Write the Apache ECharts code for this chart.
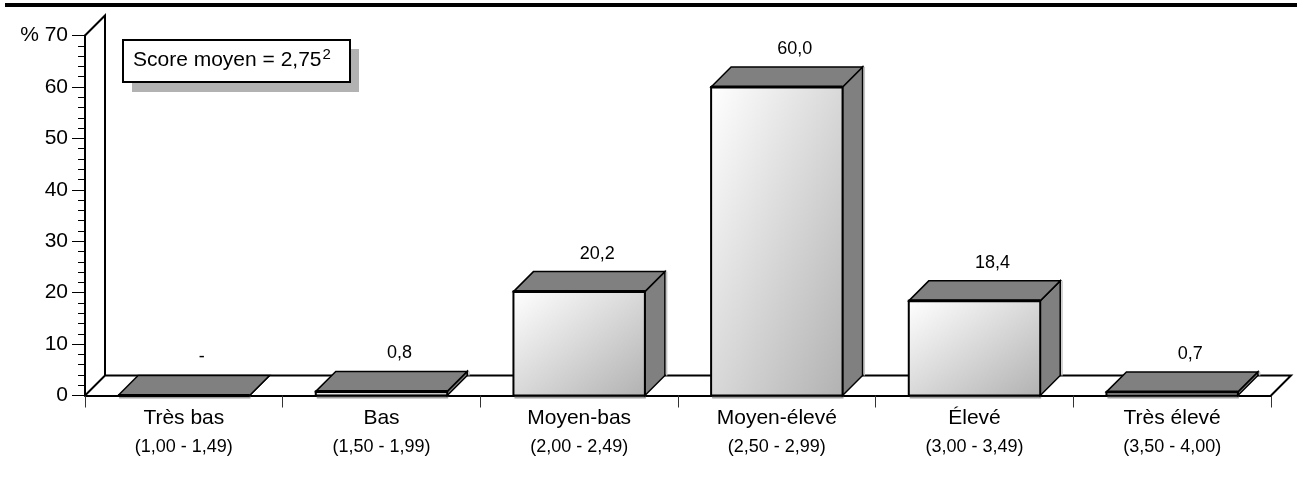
<!DOCTYPE html>
<html>
<head>
<meta charset="utf-8">
<title>Score moyen</title>
<style>
  html, body { margin: 0; padding: 0; background: #fff; }
  #myChart { width: 1297px; height: 477px; }
</style>
<script src="https://cdn.jsdelivr.net/npm/echarts@6/dist/echarts.min.js"></script>
</head>
<body>
<div id="myChart"></div>
<script>
const categories = ["Très bas", "Bas", "Moyen-bas", "Moyen-élevé", "Élevé", "Très élevé"];
const ranges = ["(1,00 - 1,49)", "(1,50 - 1,99)", "(2,00 - 2,49)", "(2,50 - 2,99)", "(3,00 - 3,49)", "(3,50 - 4,00)"];
const values = [0, 0.8, 20.2, 60.0, 18.4, 0.7];
const valueLabels = ["-", "0,8", "20,2", "60,0", "18,4", "0,7"];
const scoreText = "Score moyen = 2,75";
const scoreSup = "2";

const FONT = '"Liberation Sans", Arial, sans-serif';
const DEPTH = 20;

// sol et mur du fond
function renderFloor(params, api) {
  const c = params.coordSys;
  const left = c.x, right = c.x + c.width, top = c.y, bottom = c.y + c.height;
  const line = { stroke: "#000", lineWidth: 2, fill: "none" };
  return {
    type: "group",
    children: [
      {
        type: "polyline",
        shape: { points: [[left, bottom], [left + DEPTH, bottom - DEPTH], [right + DEPTH, bottom - DEPTH], [right, bottom]] },
        style: line
      },
      {
        type: "polyline",
        shape: { points: [[left, top], [left + DEPTH, top - DEPTH], [left + DEPTH, bottom - DEPTH]] },
        style: line
      }
    ]
  };
}

// barre en 3D : face, dessus, côté
function renderBar(params, api) {
  const idx = api.value(0);
  const top = api.coord([idx, api.value(1)]);
  const base = api.coord([idx, 0]);
  const w = api.size([1, 0])[0] * 0.665;
  const h = Math.max(base[1] - top[1], 1);
  const x0 = top[0] - w / 2;
  const x1 = top[0] + w / 2;
  const dark = { fill: "#808080", stroke: "#000", lineWidth: 1.5, lineJoin: "miter" };
  // dégradé dont les isolignes suivent la diagonale bas-gauche / haut-droite
  const k = 2 * w * h / (w * w + h * h);
  return {
    type: "group",
    children: [
      {
        type: "rect",
        shape: { x: x0 + 1, y: base[1] + 1, width: w, height: 2 },
        style: { fill: "#a0a0a0" }
      },
      {
        type: "rect",
        shape: { x: x1 + DEPTH + 1, y: top[1] - DEPTH, width: 1.5, height: base[1] - top[1] },
        style: { fill: "#c4c4c4" }
      },
      {
        type: "polygon",
        shape: { points: [[x1, top[1]], [x1 + DEPTH, top[1] - DEPTH], [x1 + DEPTH, base[1] - DEPTH], [x1, base[1]]] },
        style: dark
      },
      {
        type: "polygon",
        shape: { points: [[x0, top[1]], [x0 + DEPTH, top[1] - DEPTH], [x1 + DEPTH, top[1] - DEPTH], [x1, top[1]]] },
        style: dark
      },
      {
        type: "rect",
        shape: { x: x0, y: top[1], width: w, height: base[1] - top[1] },
        style: {
          fill: new echarts.graphic.LinearGradient(x0, top[1], x0 + h * k, top[1] + w * k, [
            { offset: 0, color: "#ffffff" },
            { offset: 1, color: "#b2b2b2" }
          ], true),
          stroke: "#000",
          lineWidth: 2
        }
      },
      {
        type: "line",
        shape: { x1: x0, y1: top[1], x2: x1, y2: top[1] },
        style: { stroke: "#000", lineWidth: 3 }
      },
      {
        type: "text",
        style: {
          x: top[0] + 18,
          y: top[1] - DEPTH - 18,
          text: valueLabels[idx],
          font: "18px " + FONT,
          fill: "#000",
          align: "center",
          verticalAlign: "middle"
        }
      }
    ]
  };
}

const myChart = echarts.init(document.getElementById("myChart"));

myChart.setOption({
  animation: false,
  backgroundColor: "#fff",
  textStyle: { fontFamily: FONT },
  grid: { left: 85, right: 26, top: 35.5, bottom: 81.5 },
  xAxis: {
    type: "category",
    data: categories,
    axisLine: { show: true, lineStyle: { color: "#000", width: 2 } },
    axisTick: { show: true, length: 12, lineStyle: { color: "#333", width: 1 } },
    axisLabel: {
      interval: 0,
      margin: 10,
      color: "#000",
      formatter: function (v, i) {
        return "{a|" + v + "}\n{b|" + ranges[i] + "}";
      },
      rich: {
        a: { fontSize: 21, lineHeight: 26, fontFamily: FONT, color: "#000" },
        b: { fontSize: 18, lineHeight: 31, fontFamily: FONT, color: "#000" }
      }
    }
  },
  yAxis: {
    type: "value",
    min: 0,
    max: 70,
    interval: 10,
    axisLine: { show: true, lineStyle: { color: "#000", width: 2 } },
    axisTick: { show: true, length: 13, lineStyle: { color: "#000", width: 1 } },
    minorTick: { show: true, splitNumber: 5, length: 7, lineStyle: { color: "#000", width: 1 } },
    splitLine: { show: false },
    axisLabel: {
      margin: 17,
      fontSize: 21,
      color: "#000",
      fontFamily: FONT,
      formatter: function (v) { return v === 70 ? "% 70" : String(v); }
    }
  },
  series: [
    { type: "custom", z: 1, clip: false, renderItem: renderFloor, data: [[0, 0]], silent: true },
    {
      type: "custom",
      z: 3,
      clip: false,
      renderItem: renderBar,
      encode: { x: 0, y: 1 },
      data: values.map(function (v, i) { return [i, v]; })
    }
  ],
  graphic: [
    { type: "rect", left: 5, top: 3, shape: { width: 1292, height: 4 }, style: { fill: "#000" } },
    { type: "rect", left: 132, top: 49, shape: { width: 227, height: 43 }, style: { fill: "#b2b2b2" } },
    { type: "rect", left: 122, top: 39, shape: { width: 227, height: 42 }, style: { fill: "#fff", stroke: "#000", lineWidth: 2 } },
    {
      type: "text",
      left: 133,
      top: 47,
      style: {
        rich: {
          t: { fontSize: 21, fontFamily: FONT, fill: "#000", lineHeight: 26 },
          s: { fontSize: 15, fontFamily: FONT, fill: "#000", verticalAlign: "top", lineHeight: 26, padding: [0, 0, 8, 1] }
        },
        text: "{t|" + scoreText + "}{s|" + scoreSup + "}"
      }
    }
  ]
});

window.addEventListener("resize", () => {
  myChart.resize();
});
</script>
</body>
</html>
